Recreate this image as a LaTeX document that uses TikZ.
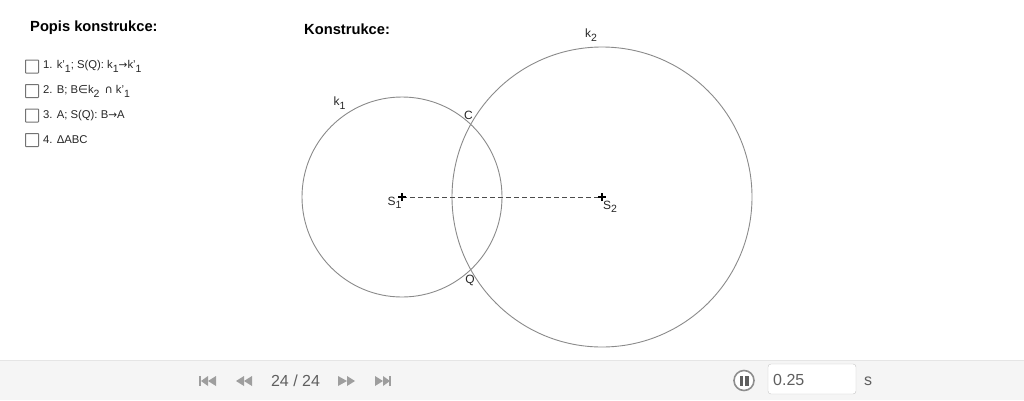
\documentclass[tikz,border=0pt]{standalone}
\usepackage{fontspec}
\setmainfont{Liberation Sans}
\newfontfamily\symfont{DejaVu Sans}
\usetikzlibrary{positioning}

\definecolor{circlegray}{HTML}{8A8A8A}
\definecolor{icongray}{HTML}{9E9E9E}
\definecolor{bargray}{HTML}{F5F5F5}
\definecolor{textgray}{HTML}{5F5F5F}

\newcommand{\idx}[1]{\raisebox{-3.4pt}{\fontsize{10.5}{10.5}\selectfont #1}}

\tikzset{
  heading/.style={font=\fontsize{14.7}{16}\selectfont\bfseries,anchor=west,inner sep=0},
  stepline/.style={font=\fontsize{11.3}{12}\selectfont,anchor=west,inner sep=0,text=black!85},
  stepcheck/.style={draw=black!55,fill=white,line width=1pt,rounded corners=.5pt,minimum size=13pt,inner sep=0},
  ptlabel/.style={font=\fontsize{12}{12}\selectfont,inner sep=0,text=black!85},
  circ/.style={draw=circlegray,line width=.9pt},
  bartext/.style={font=\fontsize{16}{16}\selectfont,text=textgray,inner sep=0},
  tri/.style={fill=icongray}
}

\begin{document}
\begin{tikzpicture}
  [x=1pt,y=-1pt]
  \useasboundingbox (0,0) rectangle (1024,400);

  \node[heading] (popis) at (30,28) {Popis konstrukce:};
  \node[heading] (konstr) at (304,29) {Konstrukce:};

  % steps
  \node[stepcheck] (c1) at (32,66.5) {};
  \node[stepcheck] (c2) at (32,91) {};
  \node[stepcheck] (c3) at (32,115.5) {};
  \node[stepcheck] (c4) at (32,140) {};
  \node[stepline] (s1) at (43,66.5) {1. k'\idx{1}; S(Q): k\idx{1}{\symfont\fontsize{10.5}{11}\selectfont →}k'\idx{1}};
  \node[stepline] (s2) at (43,91.5) {2. B; B{\symfont ∈}k\idx{2} \,{\symfont ∩} k'\idx{1}};
  \node[stepline] (s3) at (43,116) {3. A; S(Q): B{\symfont\fontsize{10.5}{11}\selectfont →}A};
  \node[stepline] (s4) at (43,140) {4. ΔABC};

  % construction
  \coordinate (S1) at (402,197);
  \coordinate (S2) at (602,197);
  \draw[circ] (S1) circle (100pt);
  \draw[circ] (S2) circle (150pt);
  \draw[line width=1pt,dash pattern=on 5pt off 3pt,black!70] (S1) -- (S2);
  \foreach \pt in {S1,S2}
    \draw[line width=1.2pt] ([xshift=-4pt]\pt) -- ([xshift=4pt]\pt)
      ([yshift=-4pt]\pt) -- ([yshift=4pt]\pt);

  \node[ptlabel] (k1) at (339.5,103) {k\idx{1}};
  \node[ptlabel] (k2) at (591,35) {k\idx{2}};
  \node[ptlabel] (C) at (468.5,115) {C};
  \node[ptlabel] (Q) at (470,280) {Q};
  \node[ptlabel] (l1) at (394.5,203) {S\idx{1}};
  \node[ptlabel] (l2) at (610,207) {S\idx{2}};

  % player bar
  \fill[bargray] (0,361) rectangle (1024,400);
  \draw[black!10] (0,360.5) -- (1024,360.5);

  \fill[tri] (199,376) rectangle (201,386);
  \fill[tri] (208,376) -- (208,386) -- (201,381) -- cycle;
  \fill[tri] (216,376) -- (216,386) -- (208,381) -- cycle;
  \fill[tri] (244,376) -- (244,386) -- (236,381) -- cycle;
  \fill[tri] (252,376) -- (252,386) -- (244,381) -- cycle;
  \fill[tri] (338,376) -- (338,386) -- (347,381) -- cycle;
  \fill[tri] (347,376) -- (347,386) -- (355,381) -- cycle;
  \fill[tri] (375,376) -- (375,386) -- (383,381) -- cycle;
  \fill[tri] (383,376) -- (383,386) -- (390,381) -- cycle;
  \fill[tri] (389,376) rectangle (391,386);
  \node[bartext] (pos) at (295.5,380.5) {24 / 24};

  \draw[icongray!90!black,line width=1.6pt,fill=white] (744,380.5) circle (10pt);
  \fill[textgray] (739.5,375.5) rectangle (742.8,385.5);
  \fill[textgray] (745.2,375.5) rectangle (748.5,385.5);
  \node[draw=black!22,fill=white,rounded corners=3pt,minimum width=88pt,minimum height=30pt,inner sep=0] (speed) at (812,379) {};
  \node[bartext,anchor=west] (val) at (773,380) {0.25};
  \node[bartext,anchor=west] (unit) at (864,381) {s};
\end{tikzpicture}
\end{document}
